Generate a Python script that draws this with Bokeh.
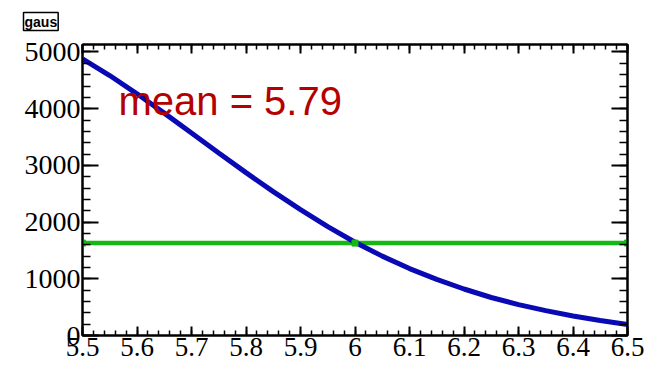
import numpy as np
from bokeh.plotting import figure
from bokeh.models import (LinearAxis, FixedTicker, CustomJSTickFormatter,
                          Label, Range1d, Title)
from bokeh.embed import file_html
from bokeh.resources import INLINE

# Fitted function sampled along the x range
fit_x = [5.50, 5.55, 5.60, 5.65, 5.70, 5.75, 5.80, 5.85, 5.90, 5.95, 6.00,
         6.05, 6.10, 6.15, 6.20, 6.25, 6.30, 6.35, 6.40, 6.45, 6.50]
fit_y = [4880, 4585, 4262, 3922, 3572, 3220, 2872, 2538, 2220, 1920, 1645,
         1400, 1180, 990, 820, 670, 545, 438, 345, 265, 194]

# Horizontal reference graph
level_x = [5.5, 6.0, 6.5]
level_y = [1630, 1630, 1630]

mean_value = 5.79
title_text = "gaus"

x_ticks = [5.5, 5.6, 5.7, 5.8, 5.9, 6.0, 6.1, 6.2, 6.3, 6.4, 6.5]
y_ticks = [0, 1000, 2000, 3000, 4000, 5000]

x_minor = [round(v, 3) for v in np.arange(5.5, 6.5001, 0.02)]
y_minor = list(range(0, 5200, 200))

X_MIN, X_MAX = 5.5, 6.5
Y_MIN, Y_MAX = 0, 5132

BLUE = "#0a0ab4"
GREEN = "#14b914"
RED = "#b40000"
SERIF = "Liberation Serif"

p = figure(frame_width=545, frame_height=291,
           x_range=Range1d(X_MIN, X_MAX), y_range=Range1d(Y_MIN, Y_MAX),
           output_backend="svg", toolbar_location=None,
           min_border_left=82, min_border_right=23,
           min_border_top=44, min_border_bottom=31,
           background_fill_color="white", border_fill_color="white")
p.xgrid.visible = False
p.ygrid.visible = False
p.outline_line_color = "black"
p.outline_line_width = 2

fmt_x = CustomJSTickFormatter(code="return String(Number(tick.toFixed(1)));")
blank = CustomJSTickFormatter(code="return '';")


def style_axis(ax, major_len, minor_len, font_size, standoff=2):
    ax.axis_line_width = 2
    ax.axis_line_color = "black"
    ax.major_tick_in = major_len
    ax.major_tick_out = 0
    ax.minor_tick_in = minor_len
    ax.minor_tick_out = 0
    ax.major_tick_line_width = 2
    ax.minor_tick_line_width = 1.5
    ax.major_label_standoff = standoff
    ax.major_label_text_font = SERIF
    ax.major_label_text_color = "black"
    ax.major_label_text_font_size = font_size


xa = p.xaxis[0]
xa.ticker = FixedTicker(ticks=x_ticks, minor_ticks=x_minor)
xa.formatter = fmt_x
style_axis(xa, 9, 5, "27px", standoff=2)

ya = p.yaxis[0]
ya.ticker = FixedTicker(ticks=y_ticks, minor_ticks=y_minor)
style_axis(ya, 16, 8, "28px", standoff=2)

# Top and right axes carry ticks only
top = LinearAxis(ticker=FixedTicker(ticks=x_ticks, minor_ticks=x_minor),
                 formatter=blank)
style_axis(top, 9, 5, "0px")
p.add_layout(top, "above")

right = LinearAxis(ticker=FixedTicker(ticks=y_ticks, minor_ticks=y_minor),
                   formatter=blank)
style_axis(right, 16, 8, "0px")
p.add_layout(right, "right")

# Reference level and fitted curve
p.line(level_x, level_y, line_color=GREEN, line_width=4.5)
p.line(fit_x, fit_y, line_color=BLUE, line_width=5)
p.scatter(level_x, level_y, marker="square", size=6,
          fill_color=GREEN, line_color=GREEN)

p.add_layout(Label(x=5.566, y=4127, text=f"mean = {mean_value}",
                   text_font="Liberation Sans", text_font_size="40px",
                   text_color=RED, text_baseline="alphabetic"))

# Boxed function name in the top-left corner, hung from the top of its panel
p.add_layout(Title(text=title_text, align="left", offset=-59,
                   vertical_align="top",
                   text_font="Liberation Sans", text_font_size="14px",
                   text_font_style="bold", text_color="black",
                   border_line_color="black", border_line_width=1.5,
                   background_fill_color="white", padding=1,
                   standoff=24), "above")

open("out.html", "w").write(file_html(p, INLINE))
